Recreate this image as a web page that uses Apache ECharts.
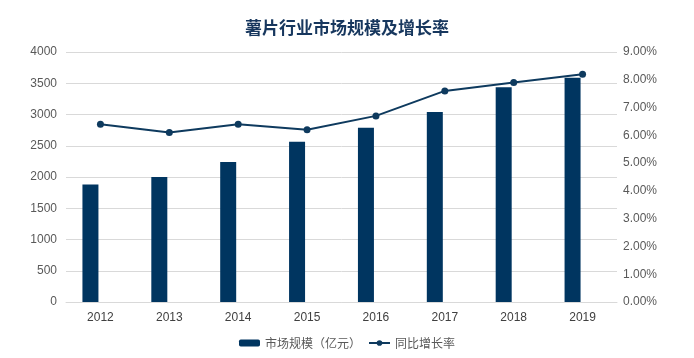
<!DOCTYPE html>
<html><head><meta charset="utf-8">
<script src="https://cdn.jsdelivr.net/npm/echarts@6/dist/echarts.min.js"></script>
<style>html,body{margin:0;padding:0;background:#fff}#c{width:694px;height:358px}</style>
</head><body><div id="c"></div>
<script>
const years = ['2012','2013','2014','2015','2016','2017','2018','2019'];
const marketSize = [1880, 2000, 2240, 2565, 2790, 3040, 3435, 3590];
const growthRate = [6.4, 6.1, 6.4, 6.2, 6.7, 7.6, 7.9, 8.2];
const leftTicks = [0, 4000, 500];
const rightTicks = [0, 9, 1];
const spacer = years.map(() => null);

const chart = echarts.init(document.getElementById('c'), null, {renderer: 'canvas'});
const font = '"Liberation Sans", "Noto Sans CJK SC", sans-serif';
chart.setOption({
  animation: false,
  title: {
    text: '薯片行业市场规模及增长率', left: 'center', top: 14,
    textStyle: {fontFamily: '"Noto Sans CJK SC", sans-serif', fontSize: 17, fontWeight: 'bold', color: '#17375e'}
  },
  legend: {
    data: ['市场规模（亿元）', '同比增长率'], bottom: 4, left: 'center', itemGap: 7,
    itemWidth: 21, itemHeight: 7,
    textStyle: {fontFamily: '"Noto Sans CJK SC", sans-serif', fontSize: 12, color: '#595959'}
  },
  grid: {left: 66, right: 77, top: 52, bottom: 56},
  xAxis: {
    type: 'category', data: years,
    axisLine: {lineStyle: {color: '#d9d9d9'}}, axisTick: {show: false},
    axisLabel: {color: '#404040', fontSize: 12, fontFamily: font, margin: 10}
  },
  yAxis: [{
    type: 'value', min: leftTicks[0], max: leftTicks[1], interval: leftTicks[2],
    axisLine: {show: false}, axisTick: {show: false},
    splitLine: {lineStyle: {color: '#d9d9d9', width: 1}},
    axisLabel: {color: '#595959', fontSize: 12, fontFamily: font, margin: 9,
      formatter: v => String(v)}
  }, {
    type: 'value', min: rightTicks[0], max: rightTicks[1], interval: rightTicks[2],
    axisLine: {show: false}, axisTick: {show: false}, splitLine: {show: false},
    axisLabel: {color: '#595959', fontSize: 12, fontFamily: font, margin: 6,
      formatter: v => v.toFixed(2) + '%'}
  }],
  series: [{
    name: '市场规模（亿元）', type: 'bar', data: marketSize, barWidth: 16, barGap: '25%',
    itemStyle: {color: '#003560'}
  }, {
    name: 'spacer', type: 'bar', data: spacer, barWidth: 16, silent: true
  }, {
    name: '同比增长率', type: 'line', yAxisIndex: 1, data: growthRate,
    symbol: 'circle', symbolSize: 7,
    lineStyle: {color: '#0e3a5e', width: 2}, itemStyle: {color: '#0e3a5e'}
  }]
});
</script></body></html>
